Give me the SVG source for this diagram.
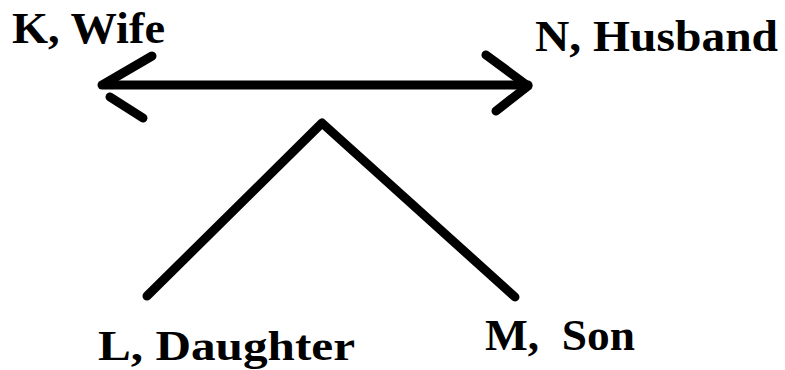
<svg xmlns="http://www.w3.org/2000/svg" width="785" height="370" viewBox="0 0 785 370">
<style>
.lbl{font-family:"Liberation Serif","Times New Roman",serif;font-weight:bold;font-size:44px;fill:#000}
.ln{stroke:#000;stroke-width:9;stroke-linecap:round;stroke-linejoin:round;fill:none}
</style>
<rect width="785" height="370" fill="#fff"/>
<g id="connectors">
<path class="ln" d="M102 85 L528 85"/>
<path class="ln" d="M152 56 L104 84"/>
<path class="ln" d="M110 97 L143 118"/>
<path class="ln" d="M486 55 L528 86 L496 111"/>
<path class="ln" d="M147 296 L322 123 L515 297"/>
</g>
<g id="node-k"><text class="lbl" x="12" y="43" textLength="153" lengthAdjust="spacingAndGlyphs">K, Wife</text></g>
<g id="node-n"><text class="lbl" x="535" y="51" textLength="243" lengthAdjust="spacingAndGlyphs">N, Husband</text></g>
<g id="node-l"><text class="lbl" x="98" y="360" style="font-size:42px" textLength="257" lengthAdjust="spacingAndGlyphs">L, Daughter</text></g>
<g id="node-m"><text class="lbl" x="485" y="350" textLength="150" lengthAdjust="spacingAndGlyphs" xml:space="preserve">M,  Son</text></g>
</svg>
